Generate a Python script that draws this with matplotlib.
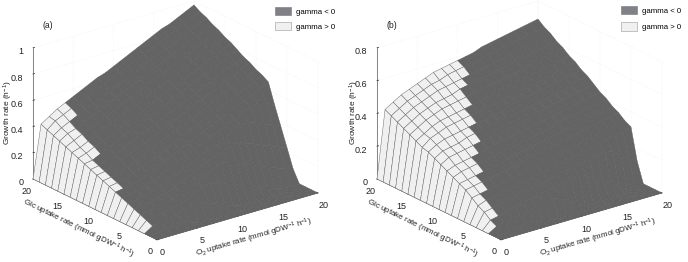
import numpy as np
import matplotlib
matplotlib.use('Agg')
import matplotlib.pyplot as plt
from matplotlib.colors import to_rgba
from matplotlib.patches import Patch
from matplotlib.transforms import ScaledTranslation

plt.rcParams['font.family'] = ['Liberation Sans', 'DejaVu Sans']
plt.rcParams['mathtext.default'] = 'regular'
plt.rcParams['font.size'] = 6

o2_uptake = list(range(21))
glc_uptake = list(range(21))
axis_ticks = [0, 5, 10, 15, 20]
ticks_a = [0, .2, .4, .6, .8, 1]
ticks_b = [0, .2, .4, .6, .8]
ticklabels_a = ['0', '0.2', '0.4', '0.6', '0.8', '1']
ticklabels_b = ['0', '0.2', '0.4', '0.6', '0.8']

# growth rate, one row per Glc uptake value, one column per O2 uptake value
growth_a = [
[0]*21,
[0,.02,.03,.04,.05,.02,0,0,0,0,0,0,0,0,0,0,0,0,0,0,0],
[0,.04,.05,.06,.08,.09,.10,.12,.09,.07,.04,.02,0,0,0,0,0,0,0,0,0],
[0,.06,.07,.08,.10,.11,.13,.16,.19,.21,.19,.16,.14,.11,.09,.06,.04,.02,0,0,0],
[0,.08,.09,.10,.12,.13,.16,.18,.21,.24,.27,.30,.28,.26,.23,.21,.18,.16,.13,.11,.09],
[0,.10,.11,.12,.14,.15,.18,.21,.24,.27,.30,.32,.35,.38,.38,.35,.33,.30,.28,.25,.23],
[0,.12,.13,.14,.16,.18,.21,.24,.26,.29,.32,.35,.38,.41,.44,.47,.47,.45,.42,.40,.37],
[0,.14,.15,.16,.18,.20,.23,.26,.29,.32,.35,.38,.41,.43,.46,.49,.52,.55,.56,.54,.51],
[0,.16,.17,.18,.20,.23,.26,.29,.32,.34,.37,.40,.43,.46,.49,.52,.55,.57,.60,.63,.66],
[0,.18,.19,.20,.23,.26,.28,.31,.34,.37,.40,.43,.46,.49,.51,.54,.57,.60,.63,.66,.69],
[0,.20,.21,.22,.25,.28,.31,.34,.37,.40,.43,.45,.48,.51,.54,.57,.60,.63,.65,.68,.71],
[0,.22,.23,.25,.28,.31,.34,.36,.39,.42,.45,.48,.51,.54,.57,.59,.62,.65,.68,.71,.74],
[0,.24,.25,.28,.30,.33,.36,.39,.42,.45,.48,.51,.53,.56,.59,.62,.65,.68,.71,.73,.76],
[0,.26,.27,.30,.33,.36,.39,.42,.45,.47,.50,.53,.56,.59,.62,.65,.67,.70,.73,.76,.79],
[0,.28,.30,.33,.36,.38,.41,.44,.47,.50,.53,.56,.59,.61,.64,.67,.70,.73,.76,.79,.82],
[0,.30,.32,.35,.38,.41,.44,.47,.50,.53,.55,.58,.61,.64,.67,.70,.73,.76,.78,.81,.84],
[0,.32,.35,.38,.41,.44,.46,.49,.52,.55,.58,.61,.64,.67,.69,.72,.75,.78,.81,.84,.87],
[0,.34,.38,.40,.43,.46,.49,.52,.55,.58,.61,.63,.66,.69,.72,.75,.78,.81,.84,.86,.89],
[0,.36,.40,.43,.46,.49,.52,.55,.57,.60,.63,.66,.69,.72,.75,.77,.80,.83,.86,.89,.92],
[0,.38,.43,.46,.49,.51,.54,.57,.60,.63,.66,.69,.71,.74,.77,.80,.83,.86,.89,.92,.94],
[0,.40,.44,.48,.51,.54,.57,.60,.63,.65,.68,.71,.74,.77,.80,.83,.86,.88,.91,.94,.97],
]
growth_b = [
[0]*21,
[0,.00,.01,.02,.03,.03,0,0,0,0,0,0,0,0,0,0,0,0,0,0,0],
[0,.03,.04,.05,.06,.07,.08,.09,.10,.09,.06,.03,0,0,0,0,0,0,0,0,0],
[0,.05,.06,.07,.09,.10,.11,.12,.13,.14,.15,.16,.17,.15,.12,.09,.05,.02,0,0,0],
[0,.08,.09,.10,.11,.12,.13,.14,.15,.16,.18,.19,.20,.21,.22,.23,.24,.22,.18,.15,.12],
[0,.10,.12,.13,.14,.15,.16,.17,.18,.19,.20,.21,.22,.23,.24,.25,.27,.28,.29,.30,.31],
[0,.13,.14,.15,.16,.17,.18,.19,.21,.22,.23,.24,.25,.26,.27,.28,.29,.30,.31,.32,.33],
[0,.16,.17,.18,.19,.20,.21,.22,.23,.24,.25,.26,.27,.28,.29,.31,.32,.33,.34,.35,.36],
[0,.18,.19,.20,.21,.22,.23,.25,.26,.27,.28,.29,.30,.31,.32,.33,.34,.35,.36,.37,.38],
[0,.20,.22,.23,.24,.25,.26,.27,.28,.29,.30,.31,.32,.33,.35,.36,.37,.38,.39,.40,.41],
[0,.22,.24,.25,.26,.27,.29,.30,.31,.32,.33,.34,.35,.36,.37,.38,.39,.40,.41,.42,.43],
[0,.24,.27,.28,.29,.30,.31,.32,.33,.34,.35,.36,.37,.39,.40,.41,.42,.43,.44,.45,.46],
[0,.26,.29,.30,.31,.33,.34,.35,.36,.37,.38,.39,.40,.41,.42,.43,.44,.45,.46,.48,.49],
[0,.28,.31,.33,.34,.35,.36,.37,.38,.39,.40,.42,.43,.44,.45,.46,.47,.48,.49,.50,.51],
[0,.29,.33,.35,.37,.38,.39,.40,.41,.42,.43,.44,.45,.46,.47,.48,.49,.50,.52,.53,.54],
[0,.31,.34,.37,.39,.40,.41,.42,.43,.44,.46,.47,.48,.49,.50,.51,.52,.53,.54,.55,.56],
[0,.33,.36,.39,.41,.43,.44,.45,.46,.47,.48,.49,.50,.51,.52,.53,.55,.56,.57,.58,.59],
[0,.35,.38,.41,.43,.45,.46,.47,.49,.50,.51,.52,.53,.54,.55,.56,.57,.58,.59,.60,.61],
[0,.37,.40,.43,.45,.47,.49,.50,.51,.52,.53,.54,.55,.56,.57,.59,.60,.61,.62,.63,.64],
[0,.39,.42,.45,.47,.49,.51,.52,.54,.55,.56,.57,.58,.59,.60,.61,.62,.63,.64,.65,.66],
[0,.41,.44,.47,.49,.51,.53,.55,.56,.57,.58,.59,.60,.62,.63,.64,.65,.66,.67,.68,.69],
]
# number of leading gamma > 0 cells (along O2) in each row of Glc cells
positive_cells_a = [0,0,1,1,1,1,1,1,2,2,2,2,2,3,3,3,3,3,4,4]
positive_cells_b = [0,0,1,2,2,2,3,3,4,4,5,6,6,7,7,8,8,9,10,10]

W, H = 688, 262
GRAY, LIGHT = '#646464', '#f0f0f0'
LEG_GRAY = '#808088'
fig = plt.figure(figsize=(W/100, H/100), dpi=100)
O, G = np.meshgrid(o2_uptake, glc_uptake)
S = 311


def nudge(axis, dx, dy, **props):
    for tick in axis.get_major_ticks():
        lab = tick.label1
        lab.set_transform(lab.get_transform() + ScaledTranslation(dx/100, -dy/100, fig.dpi_scale_trans))
        lab.set(**props)


def panel(left, growth, bound, zt, ztl, zmax, tag, yl, legend_y, spacing):
    ax = fig.add_axes([left/W, -18.1/H, S/W, S/H], projection='3d')
    ax.patch.set_visible(False)
    ax.set_proj_type('ortho')
    ax.view_init(elev=22.2, azim=-127.6)
    ax.set_box_aspect((203, 203, 141.5))
    fc = np.empty((20, 20, 4))
    for j in range(20):
        for i in range(20):
            fc[j, i] = to_rgba(LIGHT if i < bound[j] else GRAY)
    ax.plot_surface(O, G, np.array(growth, float), facecolors=fc, shade=False,
                    rstride=1, cstride=1, edgecolor='#5c5c5c', linewidth=.3)
    ax.set_xlim(0, 20); ax.set_ylim(0, 20); ax.set_zlim(0, zmax)
    ax.set_xticks(axis_ticks); ax.set_yticks(axis_ticks)
    ax.set_zticks(zt); ax.set_zticklabels(ztl)
    ax.zaxis.set_ticks_position('upper')
    for a in (ax.xaxis, ax.yaxis, ax.zaxis):
        a.set_pane_color((1, 1, 1, 0))
        a.pane.set_edgecolor('#ececec')
        a.pane.set_linewidth(.3)
        a.line.set_color('#555555')
        a.line.set_linewidth(.5)
        a._axinfo['grid'].update(color='#ececec', linestyle=':', linewidth=.4)
        a._axinfo['tick'].update(inward_factor=0, outward_factor=.12,
                                 linewidth={True: .5, False: .5}, color='#555555')
    ax.tick_params(axis='x', pad=-3, labelsize=6.5, colors='#222222')
    ax.tick_params(axis='y', pad=-3, labelsize=6.5, colors='#222222')
    ax.tick_params(axis='z', pad=-4, labelsize=6.5, colors='#222222')
    nudge(ax.xaxis, 4, -1)
    nudge(ax.yaxis, -3, -2)
    nudge(ax.zaxis, 6, -1.5, ha='right')
    off = left - 15.8
    def T(x, y, s, fs=5.8, **k):
        fig.text((x+off)/W, 1-y/H, s, ha='center', va='center', fontsize=fs, color='#222222', **k)
    T(48, 25, tag, fs=6.2)
    T(254, 238, r'$O_2$ uptake rate (mmol gDW$^{-1}$ h$^{-1}$)', rotation=16, rotation_mode='anchor')
    T(78, 229, r'Glc uptake rate (mmol gDW$^{-1}$ h$^{-1}$)', rotation=-26, rotation_mode='anchor')
    T(yl, 113, r'Growth rate (h$^{-1}$)', fs=6, rotation=90, rotation_mode='anchor')
    handles = [Patch(facecolor=LEG_GRAY, edgecolor='#777777', linewidth=.4, label='gamma < 0'),
               Patch(facecolor=LIGHT, edgecolor='#999999', linewidth=.4, label='gamma > 0')]
    fig.legend(handles=handles, loc='upper left', frameon=False, fontsize=5.6,
               bbox_to_anchor=((275+off + (2 if tag == '(b)' else 0))/W, 1-legend_y/H), borderaxespad=0, borderpad=0,
               handlelength=2.05, handleheight=1.3, handletextpad=.65, labelspacing=spacing)
    return ax


panel(15.8, growth_a, positive_cells_a, ticks_a, ticklabels_a, 1, '(a)', 8, 7, .77)
panel(359.8, growth_b, positive_cells_b, ticks_b, ticklabels_b, .8, '(b)', 10, 6, .95)
fig.savefig('out.png', dpi=100)
